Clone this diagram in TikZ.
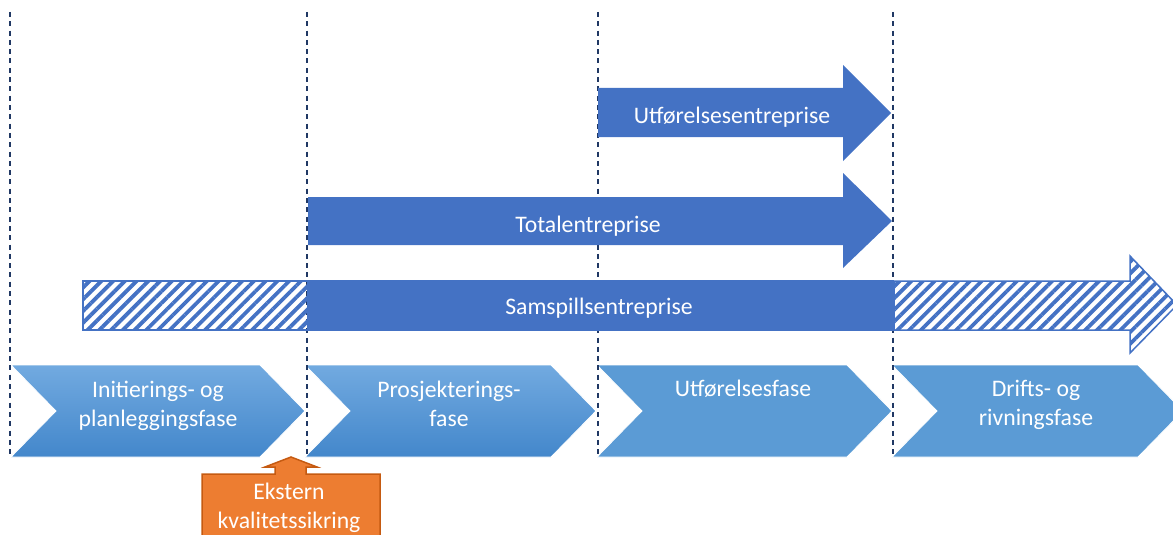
\documentclass[tikz,border=0pt]{standalone}
\usepackage{fontspec}
\setmainfont{Carlito}
\usetikzlibrary{patterns.meta}

\definecolor{arrowblue}{HTML}{4472C4}
\definecolor{phaseblue}{HTML}{5B9BD5}
\definecolor{phasetop}{HTML}{72AAE0}
\definecolor{phasebot}{HTML}{4387CB}
\definecolor{gridnavy}{HTML}{203864}
\definecolor{qaorange}{HTML}{ED7D31}
\definecolor{qaedge}{HTML}{C55A11}

% chevron outline: left x, right x
\newcommand\phasechevron[2]{(#1,365) -- (#2-45,365) -- (#2,411) -- (#2-45,457) -- (#1,457) -- (#1+45,411) -- cycle}

\begin{document}
\begin{tikzpicture}[x=1pt,y=-1pt,
  lbl/.style={text=white, font=\fontsize{23.7}{29}\selectfont, align=center, inner sep=0pt},
  phaseflat/.style={fill=phaseblue, draw=white, line width=0.8pt},
  phasegrad/.style={top color=phasetop, bottom color=phasebot, draw=white, line width=0.8pt},
  gridline/.style={draw=gridnavy, line width=1.3pt, dash pattern=on 5pt off 4.3pt},
  solidarrow/.style={fill=arrowblue},
  hatched/.style={draw=arrowblue, line width=1.5pt,
    pattern={Lines[angle=45,distance=8.3pt,line width=3.8pt]}, pattern color=arrowblue},
  qabox/.style={fill=qaorange, draw=qaedge, line width=1.5pt},
]
\useasboundingbox (0,0) rectangle (1173,535);
\clip (0,0) rectangle (1173,535);

% project phases
\path[phasegrad] \phasechevron{11}{305};
\path[phasegrad] \phasechevron{305}{596};
\path[phaseflat] \phasechevron{597}{892};
\path[phaseflat] \phasechevron{892}{1183};

\node[lbl] (p1) at (158,406) {Initierings- og\\planleggingsfase};
\node[lbl] (p2) at (449,404) {Prosjekterings-\\fase};
\node[lbl, anchor=base] (p3) at (743,396) {Utførelsesfase};
\node[lbl] (p4) at (1036,405) {Drifts- og\\rivningsfase};

% phase boundaries
\foreach \gx in {10,307,598,893}
  \draw[gridline] (\gx,12) -- (\gx,455);

% contract forms
\path[solidarrow] (598,88) -- (843,88) -- (843,65) -- (891,113) -- (843,161) -- (843,137) -- (598,137) -- cycle;
\node[lbl, anchor=base] (ue) at (732,123) {Utførelsesentreprise};

\path[solidarrow] (308,197) -- (843,197) -- (843,173) -- (892,221) -- (843,268) -- (843,245) -- (308,245) -- cycle;
\node[lbl, anchor=base] (te) at (588,232) {Totalentreprise};

\path[hatched] (83,281) rectangle (308,330);
\path[hatched] (894,281) -- (1130,281) -- (1130,256) -- (1177,305) -- (1130,353) -- (1130,330) -- (894,330) -- cycle;
\path[solidarrow] (307,280) rectangle (894,331);
\node[lbl, anchor=base] (se) at (599,314) {Samspillsentreprise};

% external quality assurance callout
\path[qabox] (202,474) -- (275,474) -- (275,467) -- (265,467) -- (291,457) -- (317,467) -- (306,467) -- (306,474) -- (380,474) -- (380,545) -- (202,545) -- cycle;
\node[lbl] (qa) at (289,508) {Ekstern\\kvalitetssikring};
\end{tikzpicture}
\end{document}
